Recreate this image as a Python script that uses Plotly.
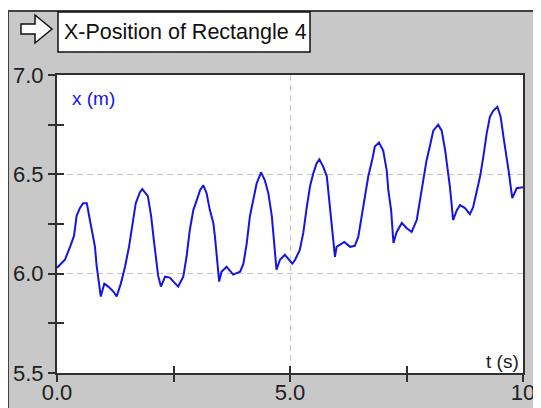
import plotly.graph_objects as go

# ---- data ----
t_s = [0.00, 0.17, 0.28, 0.365, 0.42, 0.49, 0.56, 0.64, 0.69, 0.74, 0.815, 0.85, 0.89, 0.94,
       1.015, 1.10, 1.21, 1.28, 1.37, 1.46, 1.545, 1.615, 1.69, 1.78, 1.83, 1.95, 2.02, 2.07,
       2.12, 2.17, 2.23, 2.32, 2.42, 2.57, 2.60, 2.71, 2.78, 2.85, 2.925, 3.00, 3.07, 3.14,
       3.21, 3.28, 3.355, 3.39, 3.43, 3.48, 3.53, 3.64, 3.78, 3.93, 4.00, 4.07, 4.14, 4.21,
       4.285, 4.38, 4.46, 4.535, 4.61, 4.66, 4.71, 4.785, 4.89, 5.05, 5.11, 5.21, 5.285, 5.36,
       5.43, 5.50, 5.57, 5.63, 5.71, 5.79, 5.82, 5.86, 5.91, 5.965, 6.00, 6.165, 6.29, 6.39,
       6.465, 6.54, 6.61, 6.68, 6.77, 6.82, 6.91, 7.00, 7.075, 7.11, 7.17, 7.22, 7.29, 7.40,
       7.50, 7.61, 7.72, 7.79, 7.86, 7.93, 8.00, 8.075, 8.18, 8.255, 8.33, 8.38, 8.43, 8.47,
       8.50, 8.58, 8.65, 8.755, 8.86, 8.93, 9.00, 9.08, 9.15, 9.22, 9.29, 9.36, 9.45, 9.52,
       9.58, 9.65, 9.70, 9.74, 9.77, 9.865, 10.0]
x_m = [6.03, 6.07, 6.135, 6.19, 6.29, 6.33, 6.355, 6.355, 6.29, 6.22, 6.135, 6.04, 5.96, 5.885,
       5.95, 5.935, 5.91, 5.885, 5.95, 6.035, 6.135, 6.25, 6.355, 6.41, 6.425, 6.39, 6.29, 6.185,
       6.085, 5.99, 5.935, 5.985, 5.98, 5.94, 5.935, 5.985, 6.085, 6.22, 6.32, 6.37, 6.42, 6.445,
       6.405, 6.32, 6.255, 6.185, 6.07, 5.96, 6.01, 6.035, 5.995, 6.01, 6.05, 6.15, 6.29, 6.37,
       6.455, 6.51, 6.47, 6.405, 6.29, 6.155, 6.02, 6.07, 6.095, 6.05, 6.07, 6.12, 6.205, 6.335,
       6.44, 6.505, 6.555, 6.575, 6.54, 6.49, 6.42, 6.335, 6.23, 6.085, 6.135, 6.16, 6.135, 6.14,
       6.185, 6.29, 6.385, 6.49, 6.58, 6.64, 6.66, 6.62, 6.52, 6.42, 6.32, 6.155, 6.21, 6.255,
       6.23, 6.21, 6.27, 6.37, 6.455, 6.57, 6.64, 6.72, 6.75, 6.72, 6.62, 6.54, 6.44, 6.345,
       6.27, 6.32, 6.345, 6.33, 6.30, 6.335, 6.405, 6.49, 6.59, 6.705, 6.79, 6.82, 6.84, 6.79,
       6.69, 6.59, 6.505, 6.43, 6.38, 6.43, 6.435]

x_tickvals = [0, 5, 10]
x_ticktext = ["0.0", "5.0", "10"]
x_minor = [2.5, 7.5]
y_tickvals = [5.5, 6.0, 6.5, 7.0]
y_ticktext = ["5.5", "6.0", "6.5", "7.0"]
y_minor = [5.75, 6.25, 6.75]

title_text = "X-Position of Rectangle 4"
y_label = "x (m)"
x_label = "t (s)"

FONT = "Liberation Sans"
GRAY = "#C8C8C8"
DARK = "#303030"
BLUE = "#1414E6"

# page is shown with an 8px body margin, so the figure is offset by (8, 8)
PW, PH = 466, 298  # plot area size in px

fig = go.Figure()
fig.add_trace(go.Scatter(x=t_s, y=x_m, mode="lines", line=dict(color=BLUE, width=2),
                         hoverinfo="skip", showlegend=False))
fig.add_trace(go.Scatter(x=[], y=[], xaxis="x2", yaxis="y2", showlegend=False))

tick_common = dict(ticklen=7, tickwidth=2, tickcolor=DARK)

fig.update_layout(
    width=541, height=408,
    margin=dict(l=49, r=26, t=67, b=43, pad=0, autoexpand=False),
    paper_bgcolor="white",
    plot_bgcolor="white",
    xaxis=dict(range=[0, 10], tickmode="array", tickvals=x_tickvals, ticktext=x_ticktext,
               ticks="outside", **tick_common, automargin=False, ticklabelstandoff=-8,
               minor=dict(tickmode="array", tickvals=x_minor, ticks="outside", ticklen=7,
                          tickwidth=2, tickcolor=DARK, showgrid=False),
               showgrid=True, gridcolor="#C4C4C4", griddash="6px,4px", gridwidth=1,
               showline=True, linecolor=DARK, linewidth=2, mirror=True, zeroline=False,
               tickfont=dict(family=FONT, size=22, color="#202020")),
    yaxis=dict(range=[5.5, 7.0], tickmode="array", tickvals=y_tickvals, ticktext=y_ticktext,
               ticks="outside", **tick_common, automargin=False,
               minor=dict(tickmode="array", tickvals=y_minor, ticks="outside", ticklen=7,
                          tickwidth=2, tickcolor=DARK, showgrid=False),
               showgrid=True, gridcolor="#C4C4C4", griddash="6px,4px", gridwidth=1,
               showline=True, linecolor=DARK, linewidth=2, mirror=True, zeroline=False,
               tickfont=dict(family=FONT, size=22, color="#202020")),
    xaxis2=dict(overlaying="x", range=[0, 10], tickmode="array",
                tickvals=sorted(x_tickvals + x_minor), automargin=False,
                ticks="inside", **tick_common, showticklabels=False, showgrid=False,
                showline=False, zeroline=False),
    yaxis2=dict(overlaying="y", range=[5.5, 7.0], tickmode="array",
                tickvals=sorted(y_tickvals + y_minor), automargin=False,
                ticks="inside", **tick_common, showticklabels=False, showgrid=False,
                showline=False, zeroline=False),
    shapes=[
        # gray panel behind everything
        dict(type="rect", xref="paper", yref="paper", xsizemode="pixel", ysizemode="pixel",
             xanchor=0, yanchor=0, x0=-49, x1=500, y0=-60, y1=362,
             fillcolor=GRAY, line=dict(color="#404040", width=2), layer="below"),
        # white plotting area
        dict(type="rect", xref="paper", yref="paper", x0=0, x1=1, y0=0, y1=1,
             fillcolor="white", line=dict(width=0), layer="below"),
        # title box
        dict(type="rect", xref="paper", yref="paper", xsizemode="pixel", ysizemode="pixel",
             xanchor=0, yanchor=0, x0=1, x1=253, y0=321, y1=361,
             fillcolor="white", line=dict(color="#101010", width=1.5), layer="above"),
        # outlined arrow icon
        dict(type="path", xref="paper", yref="paper", xsizemode="pixel", ysizemode="pixel",
             xanchor=0, yanchor=0,
             path="M -36 349 L -22 349 L -22 358 L -5 344 L -22 330 L -22 339 L -36 339 Z",
             fillcolor="white", line=dict(color="#101010", width=1.5), layer="above"),
    ],
    annotations=[
        dict(text=title_text, xref="paper", yref="paper", x=5 / PW, y=(298 - 32 + 75) / PH,
             xanchor="left", yanchor="middle", showarrow=False,
             font=dict(family=FONT, size=21.5, color="#101010")),
        dict(text=y_label, xref="paper", yref="paper", x=13 / PW, y=(298 - 98 + 75) / PH,
             xanchor="left", yanchor="middle", showarrow=False,
             font=dict(family=FONT, size=19, color=BLUE)),
        dict(text=x_label, xref="paper", yref="paper", x=(521 - 57) / PW, y=(373 - 361) / PH,
             xanchor="right", yanchor="middle", showarrow=False,
             font=dict(family=FONT, size=19, color="#202020")),
    ],
)

fig.write_html("out.html")
